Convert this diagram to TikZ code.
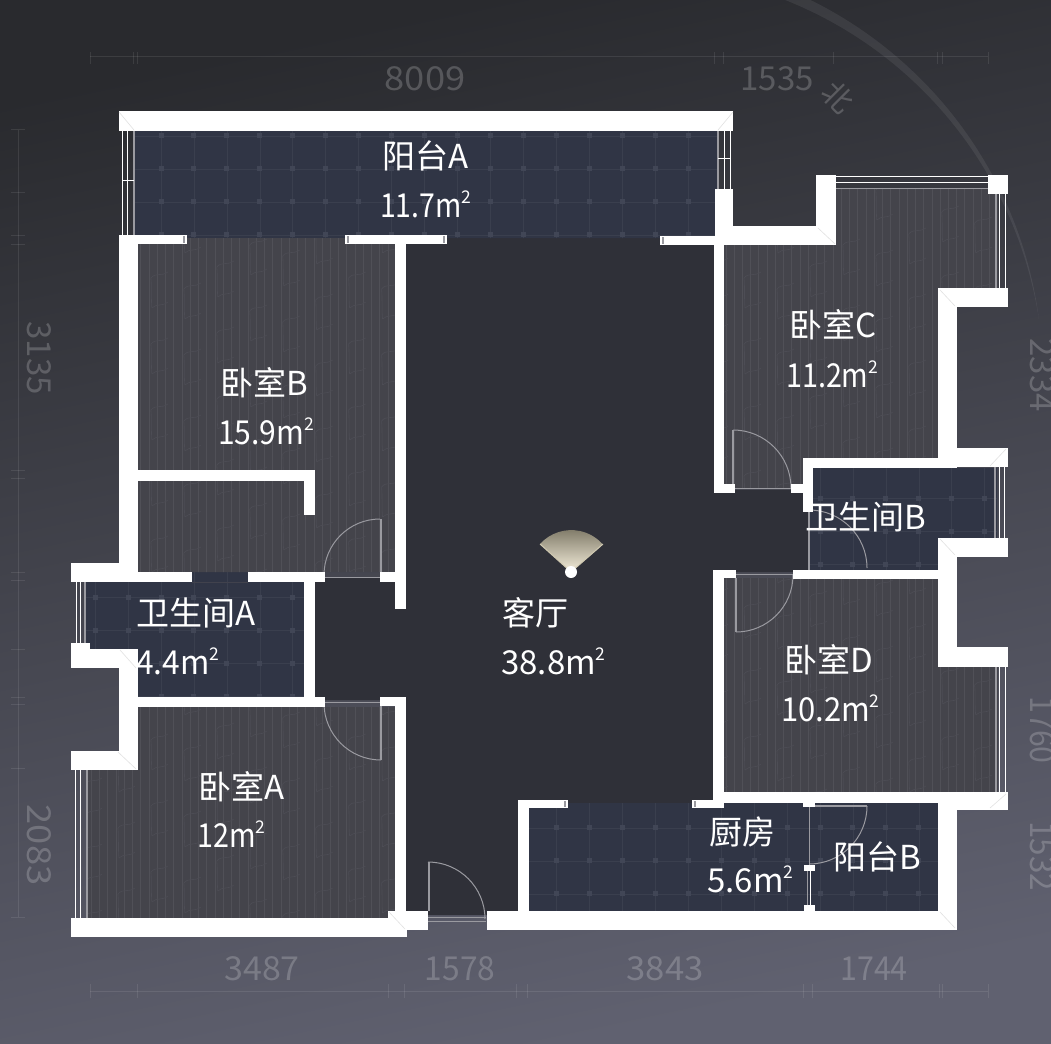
\documentclass[tikz,border=0pt]{standalone}
\usepackage{graphicx}
\usepackage{fontspec}
\newfontfamily\cjk{Noto Sans CJK SC}
\definecolor{cBgTop}{HTML}{292A2E}
\definecolor{cBgMid}{HTML}{41424C}
\definecolor{cBgBot}{HTML}{606170}
\definecolor{cNavy}{HTML}{303545}
\definecolor{cGridL}{HTML}{3A3F4E}
\definecolor{cGridD}{HTML}{414656}
\definecolor{cWood}{HTML}{44444B}
\definecolor{cWoodL}{HTML}{505057}
\definecolor{cGrain}{HTML}{4D4D55}
\definecolor{cLiving}{HTML}{2F3038}
\definecolor{cDoor}{HTML}{9A9AA0}
\definecolor{cMitre}{HTML}{E2E2E2}
\definecolor{cFanA}{HTML}{7D7866}
\definecolor{cFanB}{HTML}{F5EEDB}
\definecolor{cFanE}{HTML}{CFC8B0}
\tikzset{
  x=1pt,y=-1pt,
  roomlabel/.style={text=white,font=\cjk\fontsize{33}{33}\selectfont,inner sep=0pt,anchor=base west},
  dimtext/.style={text=white,text opacity=.2,font=\cjk\fontsize{33}{33}\selectfont,inner sep=0pt,anchor=center},
  dimvert/.style={dimtext,rotate=-90},
  dimline/.style={draw=white,draw opacity=.09,line width=1pt},
  doorarc/.style={draw=cDoor,line width=1pt},
  doorleaf/.style={draw=cDoor,line width=2.4pt},
  doorsill/.style={draw=cDoor,line width=1pt},
  glassa/.style={draw=white,line width=1pt},
  glassb/.style={draw=cDoor,line width=1.5pt},
  wallrect/.style={fill=white},
  mitre/.style={draw=cMitre,line width=.6pt},
}
\newcommand{\areatext}[2][.93]{\scalebox{#1}[1]{#2m}\kern-.3pt\raisebox{14pt}{\fontsize{17.5}{17.5}\selectfont 2}}
\newcommand{\numw}[2]{\scalebox{#1}[1]{#2}}
\newcommand{\wetrooms}{
  (135,131) rectangle (718,238)
  (85,582) -- (304,582) -- (304,697) -- (138,697) -- (138,649) -- (85,649) -- cycle
  (192,570) rectangle (248,583)
  (813,468) -- (997,468) -- (997,538) -- (938,538) -- (938,570) -- (808,570) -- (808,510) -- (813,510) -- cycle
  (529,803) rectangle (938,911)
}
\newcommand{\woodrooms}{
  (138,238) rectangle (395,572)
  (138,707) -- (395,707) -- (395,918) -- (87,918) -- (87,770) -- (138,770) -- cycle
  (724,245) -- (836,245) -- (836,189) -- (998,189) -- (998,288) -- (938,288) -- (938,458) -- (803,458) -- (803,488) -- (724,488) -- cycle
  (724,578) -- (938,578) -- (938,667) -- (998,667) -- (998,792) -- (724,792) -- cycle
}
\begin{document}
\begin{tikzpicture}
\useasboundingbox (0,0) rectangle (1051,1043);
% background
\shade[shading=axis,top color=cBgTop,middle color=cBgMid,bottom color=cBgBot,shading angle=12] (0,0) rectangle (1051,1043);
% compass arc
\fill[white,opacity=.07] plot[domain=-70:-8,samples=70] ({630+(413+5.5*(\x+8)/(-62))*cos(\x)},{377+(413+5.5*(\x+8)/(-62))*sin(\x)})
  -- plot[domain=-8:-70,samples=70] ({630+(413-5.5*(\x+8)/(-62))*cos(\x)},{377+(413-5.5*(\x+8)/(-62))*sin(\x)}) -- cycle;
% dimension lines
\draw[dimline] (90,57) -- (988,57);
\foreach \t in {90,133,137,714,723,833,937,942,988} \draw[dimline] (\t,52) -- (\t,64);
\draw[dimline] (90,991) -- (988,991);
\foreach \t in {90,137,388,404,516,527,803,812,939,942,988} \draw[dimline] (\t,984) -- (\t,998);
\draw[dimline] (18,130) -- (18,917);
\foreach \t in {130,192,235,244,470,478,572,580,649,697,704,768,917} \draw[dimline] (11,\t) -- (25,\t);
% living room
\fill[cLiving] (400,238) -- (715,238) -- (715,490) -- (808,490) -- (808,572) -- (714,572) -- (714,803) -- (518,803) -- (518,915) -- (400,915) -- (400,700) -- (315,700) -- (315,578) -- (400,578) -- cycle;
% wet floors
\begin{scope}
\clip \wetrooms;
\fill[cNavy] (0,0) rectangle (1051,1043);
\foreach \i in {-3,...,26} \draw[cGridL,line width=.7pt] ({161+32.95*\i},120) -- ({161+32.95*\i},920);
\foreach \j in {0,...,24} \draw[cGridL,line width=.7pt] (70,{136+32.95*\j}) -- (1010,{136+32.95*\j});
\foreach \i in {-3,...,26} \foreach \j in {0,...,24}
  \fill[cGridD] ({161+32.95*\i-2.5},{136+32.95*\j-2.5}) rectangle ++(5,5);
\end{scope}
% wood floors
\begin{scope}
\clip \woodrooms;
\fill[cWood] (0,0) rectangle (1051,1043);
\foreach \i in {0,...,110} \draw[cWoodL,line width=.45pt] ({83+8.24*\i},180) -- ({83+8.24*\i},925);
\foreach \i in {0,...,28} \foreach \j in {0,...,12} {
  \pgfmathsetmacro{\gx}{85+32.95*\i}
  \pgfmathsetmacro{\gy}{190+66*\j+mod(\i,2)*33+mod(\i,3)*11}
  \draw[cGrain,line width=.6pt] (\gx,\gy) .. controls ({\gx+5},{\gy-6}) and ({\gx+10},{\gy-1}) .. ({\gx+17},{\gy-6});
  \draw[cGrain,line width=.6pt] ({\gx+1},{\gy+30}) .. controls ({\gx},{\gy+20}) and ({\gx+1},{\gy+10}) .. (\gx,\gy);
  \draw[cGrain,line width=.6pt] ({\gx+1},{\gy+30}) .. controls ({\gx+6},{\gy+25}) and ({\gx+11},{\gy+29}) .. ({\gx+17},{\gy+24});
}
\end{scope}
% doors
\draw[doorleaf] (381,519) -- (381,572);
\draw[doorarc] (380,519) arc[start angle=-90,end angle=-180,radius=56];
\draw[doorsill] (324,577) -- (380,577);
\draw[doorleaf] (381,706) -- (381,760);
\draw[doorarc] (381,760) arc[start angle=90,end angle=180,radius=57];
\draw[doorsill] (324,702) -- (380,702);
\draw[doorleaf] (733,430) -- (733,484);
\draw[doorarc] (733,430) arc[start angle=-90,end angle=0,radius=58];
\draw[doorsill] (735,488) -- (791,488);
\draw[doorleaf] (736,578) -- (736,632);
\draw[doorarc] (736,632) arc[start angle=90,end angle=0,radius=57];
\draw[doorsill] (736,574) -- (793,574);
\draw[doorleaf] (809,512) -- (809,570);
\draw[doorarc] (809,510) arc[start angle=-90,end angle=0,radius=58];
\draw[doorleaf] (812,806) -- (867,806);
\draw[doorarc] (867,806) arc[start angle=0,end angle=90,radius=58];
\draw[doorsill] (809,807) -- (809,865);
\draw[doorleaf] (429,862) -- (429,911);
\draw[doorarc] (428,862) arc[start angle=-90,end angle=0,radius=57];
\draw[doorsill] (428,917) -- (486,917);
\draw[doorsill] (428,921) -- (486,921);
\draw[doorsill] (807,871) -- (807,905);
\draw[glassa] (810,871) -- (810,905);
% windows
\draw[glassa] (122,131) -- (122,235); \draw[glassa] (127,131) -- (127,235); \draw[glassb] (134,131) -- (134,235); \draw[glassa] (122,181) -- (134,181);
\draw[glassb] (718,131) -- (718,189); \draw[glassa] (724,131) -- (724,189); \draw[glassa] (730,131) -- (730,189); \draw[glassa] (718,159) -- (730,159);
\draw[glassa] (836,177) -- (988,177); \draw[glassa] (836,183) -- (988,183); \draw[glassb] (836,188.5) -- (988,188.5);
\draw[glassb] (996,194) -- (996,288); \draw[glassa] (999,194) -- (999,288); \draw[glassa] (1005,194) -- (1005,288);
\draw[glassb] (995,467) -- (995,538); \draw[glassa] (999,467) -- (999,538); \draw[glassa] (1004,467) -- (1004,538);
\draw[glassb] (996,667) -- (996,792); \draw[glassa] (999,667) -- (999,792); \draw[glassa] (1005,667) -- (1005,792);
\draw[glassa] (76,582) -- (76,643); \draw[glassa] (80,582) -- (80,643); \draw[glassb] (85,582) -- (85,649);
\draw[glassa] (75,770) -- (75,918); \draw[glassa] (80,770) -- (80,918); \draw[glassb] (87,770) -- (87,918);
% walls
\foreach \xa/\ya/\xb/\yb in {
 119/111/733/131, 119/235/138/582, 119/235/187/244, 345/235/447/244, 395/244/406/609,
 660/236/733/245, 715/189/733/245, 714/245/724/493, 733/226/836/245, 816/175/836/245,
 988/175/1008/194, 938/288/1008/307, 938/288/957/468, 938/448/1008/467, 803/458/957/468,
 803/458/813/512, 791/484/813/493, 714/484/735/493, 938/538/1008/557, 938/538/957/667,
 938/647/1008/667, 793/570/957/579, 713/570/736/578, 713/570/724/808, 713/792/1008/803,
 938/792/1008/810, 692/800/724/808, 938/792/957/930, 487/911/957/930, 518/800/529/930,
 518/800/568/808, 803/803/815/807, 804/865/815/871, 804/905/815/917, 71/918/407/937,
 388/911/428/930, 395/697/406/918, 380/697/406/706, 138/697/325/707, 304/572/315/707,
 71/563/138/582, 138/572/192/582, 248/572/325/582, 380/572/406/582, 119/649/138/770,
 71/649/138/668, 71/643/90/668, 71/751/138/770, 138/470/315/481, 304/470/315/515}
 \fill[wallrect] (\xa,\ya) rectangle (\xb,\yb);
% jamb ticks
\foreach \t/\a/\b in {184/236/243, 348/236/243, 444/236/243, 663/237/244, 565/801/807, 695/801/807}
  \draw[cDoor,line width=1.2pt] (\t,\a) -- (\t,\b);
% mitre lines
\draw[mitre] (119,112) -- (134,130);
\draw[mitre] (733,112) -- (718,130);
\draw[mitre] (835,244) -- (818,228);
\draw[mitre] (940,290) -- (955,306);
\draw[mitre] (1006,449) -- (990,466);
\draw[mitre] (940,539) -- (955,555);
\draw[mitre] (1006,794) -- (990,808);
\draw[mitre] (955,928) -- (940,912);
\draw[mitre] (120,650) -- (136,668);
\draw[mitre] (118,752) -- (136,769);
\draw[mitre] (389,912) -- (405,929);
% view fan
\shade[top color=cFanA,bottom color=cFanB] (571,572) -- (540,544) arc[start angle=-138,end angle=-41,radius=42] -- cycle;
\draw[cFanE,line width=1pt] (540,544) -- (571,572) -- (603,544);
\fill[white] (571,572) circle[radius=6];
% room labels
\node[roomlabel] (balconyA) at (382,169) {阳台A};
\node[roomlabel] (balconyAarea) at (380,217) {\areatext[.86]{11.7}};
\node[roomlabel] (bedB) at (220,395) {卧室B};
\node[roomlabel] (bedBarea) at (218,444) {\areatext[.91]{15.9}};
\node[roomlabel] (bedC) at (789,337) {卧室C};
\node[roomlabel] (bedCarea) at (786,387) {\areatext[.87]{11.2}};
\node[roomlabel] (bathB) at (805,529) {卫生间B};
\node[roomlabel] (bathA) at (136,625) {卫生间A};
\node[roomlabel] (bathAarea) at (136,674) {\areatext[.96]{4.4}};
\node[roomlabel] (living) at (502,625) {客厅};
\node[roomlabel] (livingarea) at (501,674) {\areatext[1]{38.8}};
\node[roomlabel] (bedD) at (784,672) {卧室D};
\node[roomlabel] (bedDarea) at (781,721) {\areatext[.94]{10.2}};
\node[roomlabel] (bedA) at (198,799) {卧室A};
\node[roomlabel] (bedAarea) at (197,847) {\areatext[.87]{12}};
\node[roomlabel] (kitchen) at (709,844) {厨房};
\node[roomlabel] (kitchenarea) at (707,892) {\areatext[1]{5.6}};
\node[roomlabel] (balconyB) at (833,869) {阳台B};
% dimension labels
\node[dimtext] (d8009) at (425,79) {\numw{1.1}{8009}};
\node[dimtext] (d1535) at (777,79) {1535};
\node[dimtext,rotate=-45,font=\cjk\fontsize{30}{30}\selectfont] (north) at (838,97) {北};
\node[dimtext] (d3487) at (262,969) {\numw{1.03}{3487}};
\node[dimtext] (d1578) at (460,969) {\numw{.96}{1578}};
\node[dimtext] (d3843) at (665,969) {\numw{1.05}{3843}};
\node[dimtext] (d1744) at (874,969) {\numw{.92}{1744}};
\node[dimvert] (d3135) at (39.5,358) {3135};
\node[dimvert] (d2083) at (39.5,845) {\numw{1.1}{2083}};
\node[dimvert] (d2334) at (1042,375) {2334};
\node[dimvert] (d1760) at (1042,730) {\numw{.92}{1760}};
\node[dimvert] (d1532) at (1042,856) {\numw{.95}{1532}};
\end{tikzpicture}
\end{document}
